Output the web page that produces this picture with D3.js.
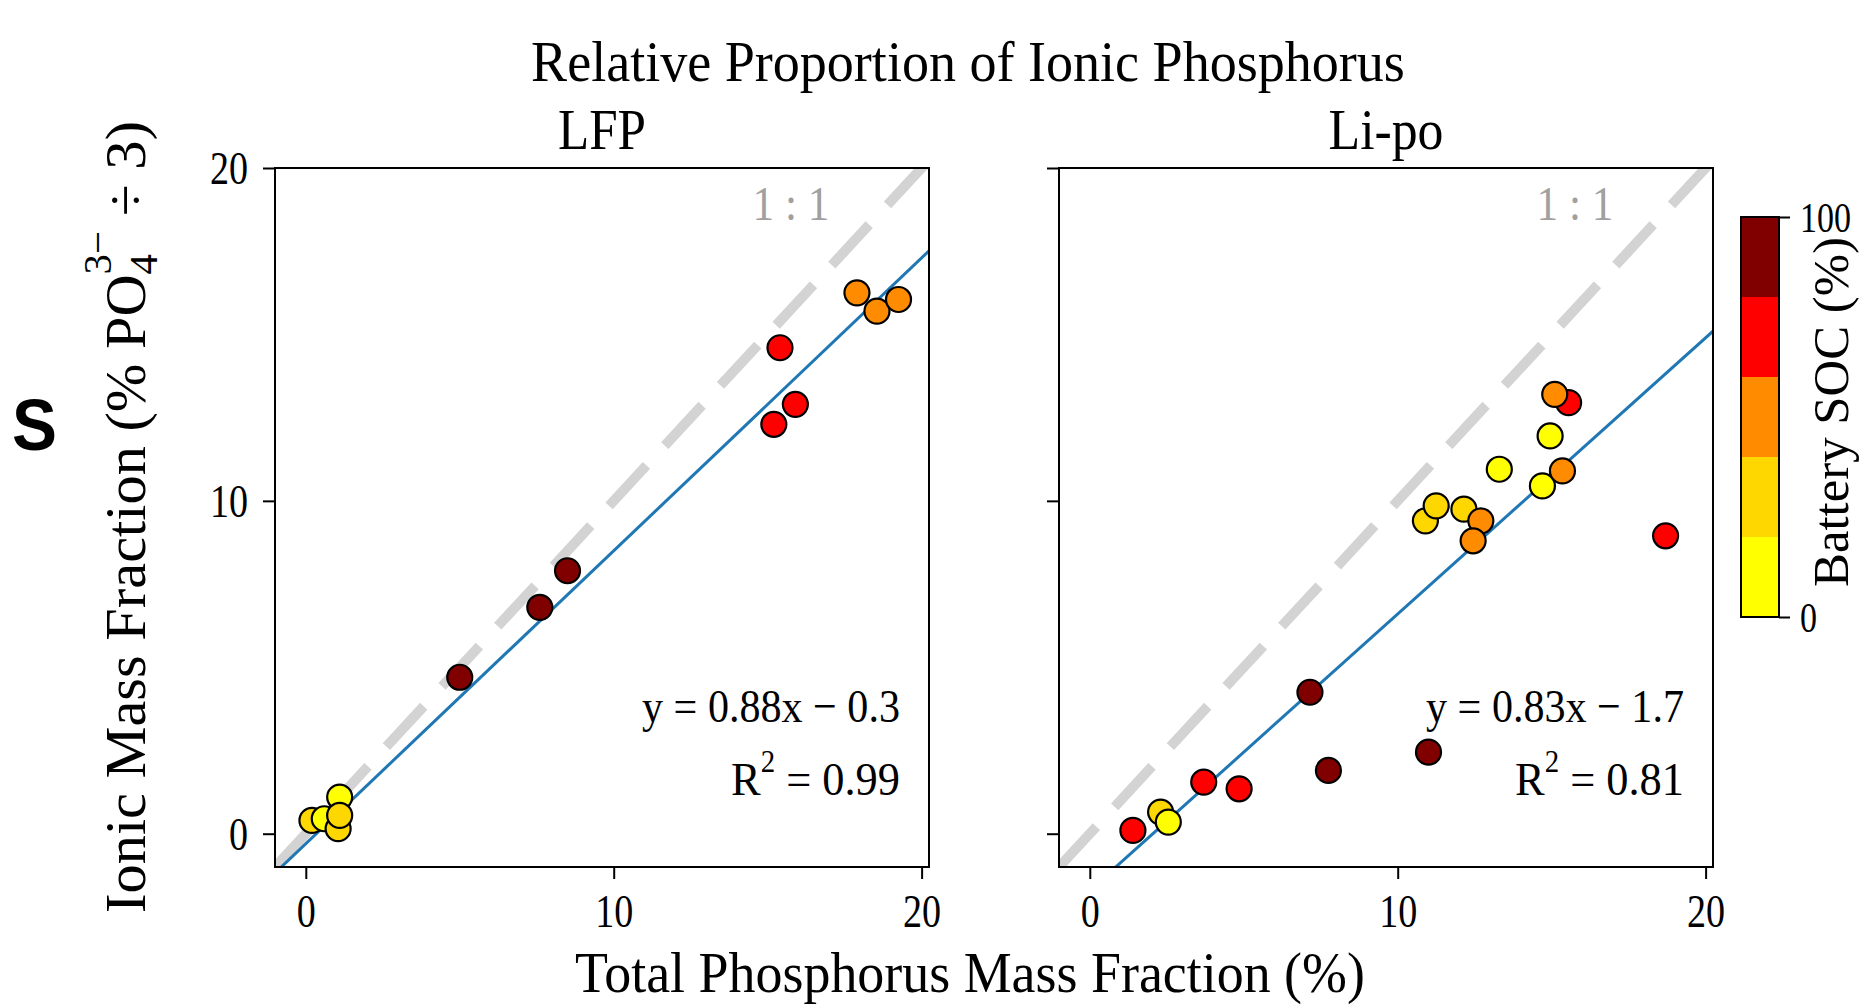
<!DOCTYPE html>
<html>
<head>
<meta charset="utf-8">
<script src="https://cdn.jsdelivr.net/npm/d3@7"></script>
<style>
  body { margin: 0; background: #fff; }
  svg { display: block; }
</style>
</head>
<body>
<div id="chart"></div>
<script>
// values
const panelNames = ['LFP', 'Li-po'];

const lfpTotal = [0.2, 0.6, 1.05, 1.1, 1.1, 5.0, 7.6, 8.5, 15.2, 15.9, 15.4, 17.9, 18.55, 19.25];
const lfpIonic = [0.4, 0.45, 0.15, 1.1, 0.55, 4.7, 6.8, 7.9, 12.3, 12.9, 14.6, 16.25, 15.7, 16.05];
const lfpSoc = [30, 10, 30, 10, 30, 90, 90, 90, 70, 70, 70, 50, 50, 50];

const lipoTotal = [1.4, 2.3, 2.55, 3.7, 4.85, 7.15, 7.75, 11.0, 10.9, 11.25, 12.15, 12.7, 12.45, 13.3, 14.7, 15.35, 14.95, 15.55, 15.1, 18.7];
const lipoIonic = [0.1, 0.65, 0.35, 1.55, 1.35, 4.25, 1.9, 2.45, 9.4, 9.85, 9.75, 9.4, 8.8, 10.95, 10.45, 10.9, 11.95, 12.95, 13.2, 8.95];
const lipoSoc = [70, 30, 10, 70, 70, 90, 90, 90, 30, 30, 30, 50, 50, 10, 10, 50, 10, 70, 50, 70];

const fitSlope = [0.88, 0.83];
const fitIntercept = [-0.3, -1.7];
const fitR2 = ['0.99', '0.81'];

const axisTicks = [0, 10, 20];
const socEdges = [0, 20, 40, 60, 80, 100];
const socColours = ['#ffff00', '#ffd700', '#ff8c00', '#ff0000', '#800000'];
const socTicks = [0, 100];

const W = 1865, H = 1008;
const serif = '"Liberation Serif", "Times New Roman", serif';
const sans = '"Liberation Sans", Arial, sans-serif';

const svg = d3.select('#chart').append('svg')
    .attr('width', W)
    .attr('height', H);

// the reference text is narrow, so each label is squeezed to the width it has there
function squeeze(text, width) {
    const w = text.node().getBBox().width;
    text.attr('transform', `scale(${width / w},1)`);
}

function label(x, y, content, size, width, opts = {}) {
    const g = svg.append('g')
        .attr('transform', `translate(${x},${y})` + (opts.rotate ? ` rotate(${opts.rotate})` : ''));
    const t = g.append('text')
        .attr('font-family', opts.family || serif)
        .attr('font-size', size)
        .attr('font-weight', opts.weight || 'normal')
        .attr('text-anchor', opts.anchor || 'middle')
        .attr('fill', opts.fill || '#000');
    if (typeof content === 'function') content(t);
    else t.text(content);
    if (width) squeeze(t, width);
    return t;
}

const soc = d3.scaleThreshold().domain(socEdges.slice(1, -1)).range(socColours);

const panels = [
    { total: lfpTotal, ionic: lfpIonic, soc: lfpSoc },
    { total: lipoTotal, ionic: lipoIonic, soc: lipoSoc },
];

const panelLefts = [275, 1059];
const panelWidth = 654;
const panelTop = 168, panelBottom = 867;
const tickScale = 0.81;

panels.forEach((p, i) => {
    const left = panelLefts[i];
    const x = d3.scaleLinear().domain([-1, 20.24]).range([left, left + panelWidth]);
    const y = d3.scaleLinear().domain([-1, 20]).range([panelBottom, panelTop]);

    svg.append('clipPath').attr('id', 'clip' + i)
        .append('rect')
        .attr('x', left).attr('y', panelTop)
        .attr('width', panelWidth).attr('height', panelBottom - panelTop);

    const plot = svg.append('g').attr('clip-path', `url(#clip${i})`);

    // 1:1 reference line
    plot.append('path')
        .datum([-1, 21])
        .attr('fill', 'none')
        .attr('stroke', '#d3d3d3')
        .attr('stroke-width', 10)
        .attr('stroke-dasharray', '55,27')
        .attr('d', d3.line().x((d) => x(d)).y((d) => y(d)));

    // linear fit
    plot.append('path')
        .datum(x.domain())
        .attr('fill', 'none')
        .attr('stroke', '#1f77b4')
        .attr('stroke-width', 3)
        .attr('d', d3.line().x((d) => x(d)).y((d) => y(fitSlope[i] * d + fitIntercept[i])));

    plot.selectAll('circle')
        .data(d3.range(p.total.length))
        .join('circle')
        .attr('cx', (d) => x(p.total[d]))
        .attr('cy', (d) => y(p.ionic[d]))
        .attr('r', 12.5)
        .attr('fill', (d) => soc(p.soc[d]))
        .attr('stroke', '#000')
        .attr('stroke-width', 2.2);

    // axes
    const xAxis = svg.append('g')
        .attr('transform', `translate(0,${panelBottom})`)
        .call(d3.axisBottom(x).tickValues(axisTicks).tickSize(12).tickSizeOuter(0).tickFormat(d3.format('d')));
    xAxis.select('.domain').remove();
    xAxis.selectAll('line').attr('stroke', '#000').attr('stroke-width', 2);
    xAxis.selectAll('text')
        .attr('font-family', serif)
        .attr('font-size', 47)
        .attr('fill', '#000')
        .attr('y', 60)
        .attr('dy', 0)
        .attr('transform', `scale(${tickScale},1)`);

    const yAxis = svg.append('g')
        .attr('transform', `translate(${left},0)`)
        .call(d3.axisLeft(y).tickValues(axisTicks).tickSize(12).tickSizeOuter(0)
            .tickFormat(i === 0 ? d3.format('d') : () => ''));
    yAxis.select('.domain').remove();
    yAxis.selectAll('line').attr('stroke', '#000').attr('stroke-width', 2);
    yAxis.selectAll('text')
        .attr('font-family', serif)
        .attr('font-size', 47)
        .attr('fill', '#000')
        .attr('x', 0)
        .attr('dy', '0.34em')
        .attr('transform', `translate(-27,0) scale(${tickScale},1)`);

    svg.append('rect')
        .attr('x', left).attr('y', panelTop)
        .attr('width', panelWidth).attr('height', panelBottom - panelTop)
        .attr('fill', 'none')
        .attr('stroke', '#000')
        .attr('stroke-width', 2);

    label((left + left + panelWidth) / 2, 149, panelNames[i], 56, i === 0 ? 88 : 115);

    label(left + 516, 220, '1 : 1', 48, 77, { fill: '#a0a0a0' });

    const right = left + panelWidth - 29;
    const sign = fitIntercept[i] < 0 ? '\u2212' : '+';
    label(right, 722,
        `y = ${fitSlope[i]}x ${sign} ${Math.abs(fitIntercept[i])}`, 47, 258, { anchor: 'end' });
    label(right, 795, (t) => {
        t.append('tspan').text('R');
        t.append('tspan').attr('font-size', '0.65em').attr('dy', '-0.75em').text('2');
        t.append('tspan').attr('dy', '0.49em').text(' = ' + fitR2[i]);
    }, 47, 169, { anchor: 'end' });
});

// colour bar
const barLeft = 1741, barWidth = 38;
const socY = d3.scaleLinear().domain([0, 100]).range([617, 217]);

svg.append('g')
    .selectAll('rect')
    .data(socColours)
    .join('rect')
    .attr('x', barLeft)
    .attr('y', (d, k) => socY(socEdges[k + 1]))
    .attr('width', barWidth)
    .attr('height', (d, k) => socY(socEdges[k]) - socY(socEdges[k + 1]))
    .attr('fill', (d) => d);

svg.append('rect')
    .attr('x', barLeft).attr('y', socY(100))
    .attr('width', barWidth).attr('height', socY(0) - socY(100))
    .attr('fill', 'none')
    .attr('stroke', '#000')
    .attr('stroke-width', 2);

const barAxis = svg.append('g')
    .attr('transform', `translate(${barLeft + barWidth},0)`)
    .call(d3.axisRight(socY).tickValues(socTicks).tickSize(11).tickSizeOuter(0));
barAxis.select('.domain').remove();
barAxis.selectAll('line').attr('stroke', '#000').attr('stroke-width', 2);
barAxis.selectAll('text')
    .attr('font-family', serif)
    .attr('font-size', 42)
    .attr('fill', '#000')
    .attr('x', 0)
    .attr('dy', '0.34em')
    .attr('transform', `translate(21,0) scale(${tickScale},1)`);

label(1848, 412, 'Battery SOC (%)', 50, 350, { rotate: -90 });

// figure texts
label(968, 81, 'Relative Proportion of Ionic Phosphorus', 56, 874);
label(970, 992, 'Total Phosphorus Mass Fraction (%)', 58, 790);
label(145, 517, (t) => {
    t.append('tspan').text('Ionic Mass Fraction (% PO');
    t.append('tspan').attr('font-size', '0.7em').attr('dy', '0.3em').text('4');
    t.append('tspan').attr('font-size', '0.7em').attr('dx', '-0.5em').attr('dy', '-1.15em').text('3\u2212');
    t.append('tspan').attr('dy', '0.6em').text(' \u00f7 3)');
}, 57, 792, { rotate: -90 });

label(12, 450, 'S', 72, 45, { family: sans, weight: 'bold', anchor: 'start' });
</script>
</body>
</html>
